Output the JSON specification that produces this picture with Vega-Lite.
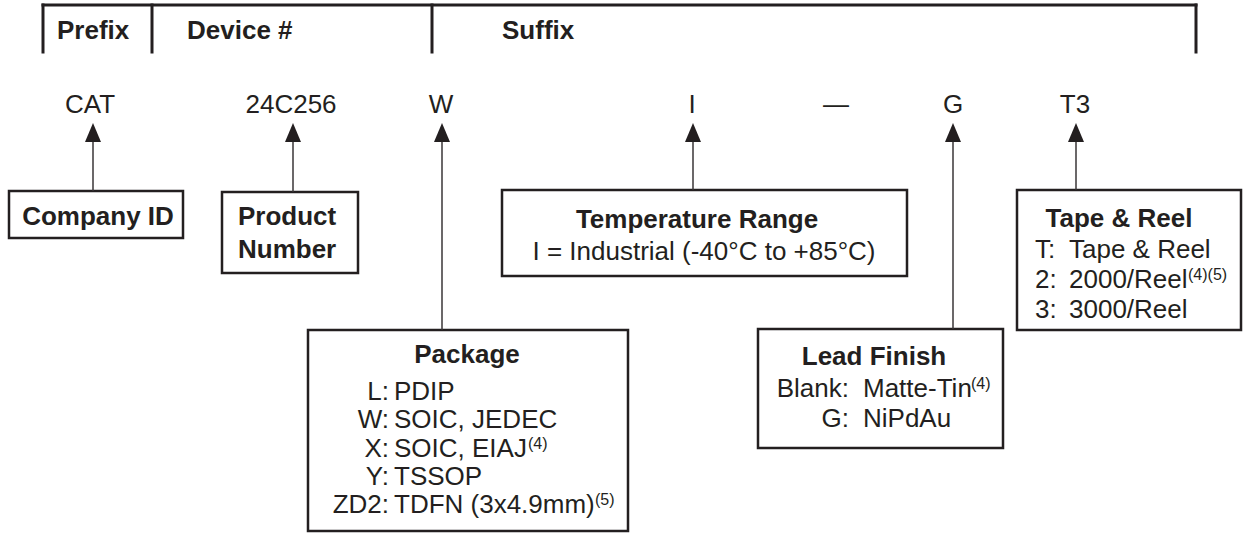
{
  "$schema": "https://vega.github.io/schema/vega-lite/v6.json",
  "width": 1243,
  "height": 533,
  "autosize": {"type": "fit", "contains": "padding"},
  "padding": 0,
  "background": "white",
  "config": {"view": {"stroke": null}, "axis": {"disable": true}},
  "datasets": {
    "boxes": [
      {"name": "Company ID", "x1": 9, "x2": 183, "y1": 191, "y2": 238},
      {"name": "Product Number", "x1": 222, "x2": 358, "y1": 192, "y2": 273},
      {"name": "Temperature Range", "x1": 502, "x2": 907, "y1": 190, "y2": 276},
      {"name": "Tape & Reel", "x1": 1017, "x2": 1241, "y1": 190, "y2": 330},
      {"name": "Package", "x1": 308, "x2": 628, "y1": 330, "y2": 531},
      {"name": "Lead Finish", "x1": 758, "x2": 1003, "y1": 329, "y2": 448}
    ],
    "lines": [
      {"kind": "header", "x1": 43, "x2": 1196, "y1": 5, "y2": 5},
      {"kind": "header", "x1": 43, "x2": 43, "y1": 5, "y2": 52},
      {"kind": "header", "x1": 152, "x2": 152, "y1": 5, "y2": 52},
      {"kind": "header", "x1": 432, "x2": 432, "y1": 5, "y2": 52},
      {"kind": "header", "x1": 1196, "x2": 1196, "y1": 5, "y2": 52},
      {"kind": "link", "x1": 93, "x2": 93, "y1": 140, "y2": 191},
      {"kind": "link", "x1": 293, "x2": 293, "y1": 140, "y2": 192},
      {"kind": "link", "x1": 442, "x2": 442, "y1": 140, "y2": 330},
      {"kind": "link", "x1": 693, "x2": 693, "y1": 140, "y2": 190},
      {"kind": "link", "x1": 953, "x2": 953, "y1": 140, "y2": 329},
      {"kind": "link", "x1": 1076, "x2": 1076, "y1": 140, "y2": 190}
    ],
    "arrows": [
      {"code": "CAT", "x": 93, "y": 132.5},
      {"code": "24C256", "x": 293, "y": 132.5},
      {"code": "W", "x": 442, "y": 132.5},
      {"code": "I", "x": 693, "y": 132.5},
      {"code": "G", "x": 953, "y": 132.5},
      {"code": "T3", "x": 1076, "y": 132.5}
    ],
    "texts": [
      {"role": "header", "text": "Prefix", "x": 57, "y": 39},
      {"role": "header", "text": "Device #", "x": 187, "y": 39},
      {"role": "header", "text": "Suffix", "x": 502, "y": 39},
      {"role": "code", "text": "CAT", "x": 90, "y": 113},
      {"role": "code", "text": "24C256", "x": 291, "y": 113},
      {"role": "code", "text": "W", "x": 441, "y": 113},
      {"role": "code", "text": "I", "x": 692, "y": 113},
      {"role": "code", "text": "—", "x": 836, "y": 113},
      {"role": "code", "text": "G", "x": 953, "y": 113},
      {"role": "code", "text": "T3", "x": 1075, "y": 113},
      {"role": "title", "text": "Company ID", "x": 98, "y": 225},
      {"role": "title", "text": "Temperature Range", "x": 697, "y": 228},
      {"role": "title", "text": "Package", "x": 467, "y": 363},
      {"role": "title", "text": "Lead Finish", "x": 874, "y": 365},
      {"role": "title", "text": "Tape & Reel", "x": 1119, "y": 227},
      {"role": "titleLeft", "text": "Product", "x": 238, "y": 225},
      {"role": "titleLeft", "text": "Number", "x": 238, "y": 258},
      {"role": "bodyCenter", "text": "I = Industrial (-40°C to +85°C)", "x": 704, "y": 260},
      {"role": "bodyRight", "text": "L:", "x": 389, "y": 400},
      {"role": "bodyRight", "text": "W:", "x": 389, "y": 428},
      {"role": "bodyRight", "text": "X:", "x": 389, "y": 457},
      {"role": "bodyRight", "text": "Y:", "x": 389, "y": 485},
      {"role": "bodyRight", "text": "ZD2:", "x": 389, "y": 513},
      {"role": "bodyLeft", "text": "PDIP", "x": 394, "y": 400},
      {"role": "bodyLeft", "text": "SOIC, JEDEC", "x": 394, "y": 428},
      {"role": "bodyLeft", "text": "SOIC, EIAJ", "x": 394, "y": 457},
      {"role": "bodyLeft", "text": "TSSOP", "x": 394, "y": 485},
      {"role": "bodyLeft", "text": "TDFN (3x4.9mm)", "x": 394, "y": 513},
      {"role": "bodyRight", "text": "Blank:", "x": 849, "y": 397},
      {"role": "bodyRight", "text": "G:", "x": 849, "y": 427},
      {"role": "bodyLeft", "text": "Matte-Tin", "x": 863, "y": 397},
      {"role": "bodyLeft", "text": "NiPdAu", "x": 863, "y": 427},
      {"role": "bodyLeft", "text": "T:", "x": 1035, "y": 258},
      {"role": "bodyLeft", "text": "2:", "x": 1035, "y": 288},
      {"role": "bodyLeft", "text": "3:", "x": 1035, "y": 318},
      {"role": "bodyLeft", "text": "Tape & Reel", "x": 1069, "y": 258},
      {"role": "bodyLeft", "text": "2000/Reel", "x": 1069, "y": 288},
      {"role": "bodyLeft", "text": "3000/Reel", "x": 1069, "y": 318},
      {"role": "sup", "text": "(4)", "x": 528, "y": 449},
      {"role": "sup", "text": "(5)", "x": 595, "y": 505},
      {"role": "sup", "text": "(4)", "x": 971, "y": 389},
      {"role": "sup", "text": "(4)(5)", "x": 1188, "y": 280}
    ]
  },
  "layer": [
    {
      "data": {"name": "boxes"},
      "mark": {"type": "rect", "fill": "white", "stroke": "#231f20", "strokeWidth": 2.5},
      "encoding": {
        "x": {"field": "x1", "type": "quantitative", "scale": {"domain": [0, 1243], "nice": false, "zero": false}, "axis": null},
        "x2": {"field": "x2"},
        "y": {"field": "y1", "type": "quantitative", "scale": {"domain": [0, 533], "nice": false, "zero": false, "reverse": true}, "axis": null},
        "y2": {"field": "y2"}
      }
    },
    {
      "data": {"name": "lines"},
      "transform": [{"filter": "datum.kind === 'header'"}],
      "mark": {"type": "rule", "stroke": "#231f20", "strokeWidth": 3, "strokeCap": "square"},
      "encoding": {
        "x": {"field": "x1", "type": "quantitative"},
        "x2": {"field": "x2"},
        "y": {"field": "y1", "type": "quantitative"},
        "y2": {"field": "y2"}
      }
    },
    {
      "data": {"name": "lines"},
      "transform": [{"filter": "datum.kind === 'link'"}],
      "mark": {"type": "rule", "stroke": "#3a3637", "strokeWidth": 1.5},
      "encoding": {
        "x": {"field": "x1", "type": "quantitative"},
        "x2": {"field": "x2"},
        "y": {"field": "y1", "type": "quantitative"},
        "y2": {"field": "y2"}
      }
    },
    {
      "data": {"name": "arrows"},
      "mark": {"type": "point", "shape": "M0,-1L0.842,1L-0.842,1Z", "size": 361, "filled": true, "fill": "#231f20", "stroke": null, "opacity": 1},
      "encoding": {
        "x": {"field": "x", "type": "quantitative"},
        "y": {"field": "y", "type": "quantitative"}
      }
    },
    {
      "data": {"name": "texts"},
      "transform": [{"filter": "datum.role === 'header'"}],
      "mark": {"type": "text", "font": "Liberation Sans", "fontSize": 26, "fontWeight": "bold", "align": "left", "baseline": "alphabetic", "fill": "#231f20"},
      "encoding": {"x": {"field": "x", "type": "quantitative"}, "y": {"field": "y", "type": "quantitative"}, "text": {"field": "text"}}
    },
    {
      "data": {"name": "texts"},
      "transform": [{"filter": "datum.role === 'code'"}],
      "mark": {"type": "text", "font": "Liberation Sans", "fontSize": 26, "align": "center", "baseline": "alphabetic", "fill": "#231f20"},
      "encoding": {"x": {"field": "x", "type": "quantitative"}, "y": {"field": "y", "type": "quantitative"}, "text": {"field": "text"}}
    },
    {
      "data": {"name": "texts"},
      "transform": [{"filter": "datum.role === 'title'"}],
      "mark": {"type": "text", "font": "Liberation Sans", "fontSize": 26, "fontWeight": "bold", "align": "center", "baseline": "alphabetic", "fill": "#231f20"},
      "encoding": {"x": {"field": "x", "type": "quantitative"}, "y": {"field": "y", "type": "quantitative"}, "text": {"field": "text"}}
    },
    {
      "data": {"name": "texts"},
      "transform": [{"filter": "datum.role === 'titleLeft'"}],
      "mark": {"type": "text", "font": "Liberation Sans", "fontSize": 26, "fontWeight": "bold", "align": "left", "baseline": "alphabetic", "fill": "#231f20"},
      "encoding": {"x": {"field": "x", "type": "quantitative"}, "y": {"field": "y", "type": "quantitative"}, "text": {"field": "text"}}
    },
    {
      "data": {"name": "texts"},
      "transform": [{"filter": "datum.role === 'bodyCenter'"}],
      "mark": {"type": "text", "font": "Liberation Sans", "fontSize": 26, "align": "center", "baseline": "alphabetic", "fill": "#231f20"},
      "encoding": {"x": {"field": "x", "type": "quantitative"}, "y": {"field": "y", "type": "quantitative"}, "text": {"field": "text"}}
    },
    {
      "data": {"name": "texts"},
      "transform": [{"filter": "datum.role === 'bodyRight'"}],
      "mark": {"type": "text", "font": "Liberation Sans", "fontSize": 26, "align": "right", "baseline": "alphabetic", "fill": "#231f20"},
      "encoding": {"x": {"field": "x", "type": "quantitative"}, "y": {"field": "y", "type": "quantitative"}, "text": {"field": "text"}}
    },
    {
      "data": {"name": "texts"},
      "transform": [{"filter": "datum.role === 'bodyLeft'"}],
      "mark": {"type": "text", "font": "Liberation Sans", "fontSize": 26, "align": "left", "baseline": "alphabetic", "fill": "#231f20"},
      "encoding": {"x": {"field": "x", "type": "quantitative"}, "y": {"field": "y", "type": "quantitative"}, "text": {"field": "text"}}
    },
    {
      "data": {"name": "texts"},
      "transform": [{"filter": "datum.role === 'sup'"}],
      "mark": {"type": "text", "font": "Liberation Sans", "fontSize": 16, "align": "left", "baseline": "alphabetic", "fill": "#231f20"},
      "encoding": {"x": {"field": "x", "type": "quantitative"}, "y": {"field": "y", "type": "quantitative"}, "text": {"field": "text"}}
    }
  ]
}
